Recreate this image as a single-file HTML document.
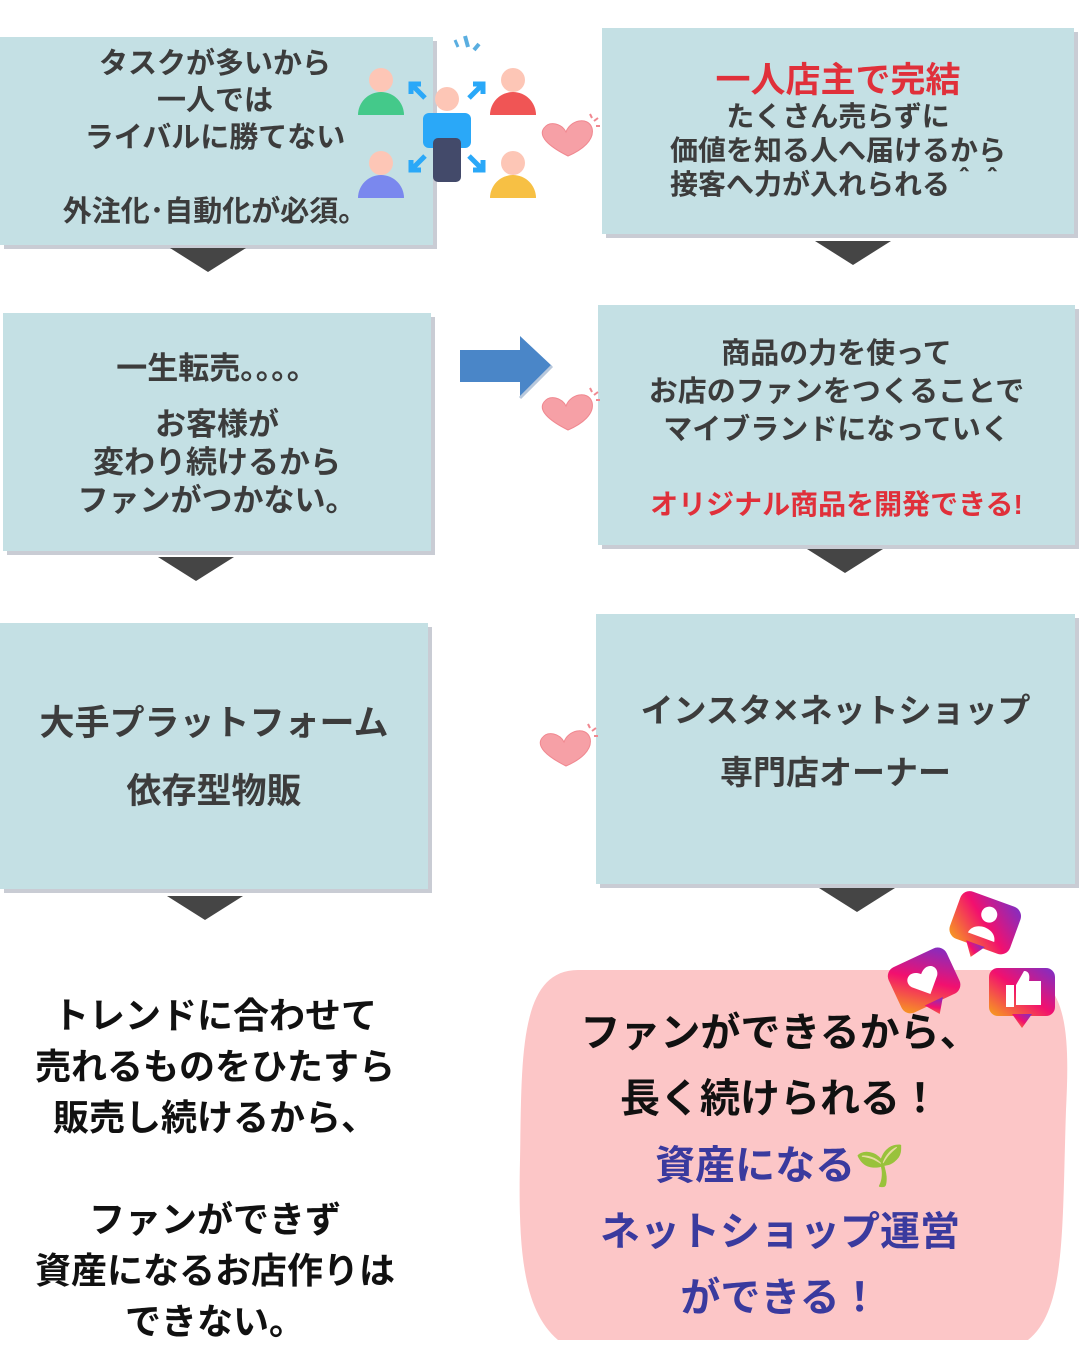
<!DOCTYPE html>
<html><head><meta charset="utf-8"><style>
body{margin:0;width:1080px;height:1350px;background:#fff;position:relative;overflow:hidden;font-family:"Liberation Sans","Noto Sans CJK JP",sans-serif;font-weight:bold;color:#3c3c3c}
.b{position:absolute;background:#c4e0e4;box-shadow:4px 4px 0 #c9ccd4;text-align:center}
.t{position:absolute;width:0;height:0;border-left:38px solid transparent;border-right:38px solid transparent;border-top:24px solid #454545}
.a{position:absolute;text-align:center;white-space:nowrap}
.red{color:#e0303a}
</style></head><body>
<div class="b" style="left:0;top:37px;width:433px;height:208px"></div>
<div class="a" style="left:0;top:46px;width:430px;font-size:29px;line-height:37px">タスクが多いから<br>一人では<br>ライバルに勝てない<br><br>外注化･自動化が必須。</div>
<div class="b" style="left:602px;top:28px;width:472px;height:206px"></div>
<div class="a" style="left:602px;top:58px;width:472px;font-size:35px;line-height:46px" ><span class="red">一人店主で完結</span></div>
<div class="a" style="left:602px;top:100px;width:472px;font-size:28px;line-height:34px">たくさん売らずに<br>価値を知る人へ届けるから<br>接客へ力が入れられる＾＾</div>

<div class="b" style="left:3px;top:313px;width:428px;height:238px"></div>
<div class="a" style="left:3px;top:348px;width:428px;font-size:31px;line-height:42px">一生転売。。。。</div>
<div class="a" style="left:3px;top:406px;width:428px;font-size:31px;line-height:38px">お客様が<br>変わり続けるから<br>ファンがつかない。</div>
<div class="b" style="left:598px;top:305px;width:477px;height:240px"></div>
<div class="a" style="left:598px;top:335px;width:477px;font-size:29px;line-height:38px">商品の力を使って<br>お店のファンをつくることで<br>マイブランドになっていく</div>
<div class="a red" style="left:598px;top:486px;width:477px;font-size:28px;line-height:38px">オリジナル商品を開発できる!</div>

<div class="b" style="left:0;top:623px;width:428px;height:266px"></div>
<div class="a" style="left:0;top:690px;width:428px;font-size:35px;line-height:68px">大手プラットフォーム<br>依存型物販</div>
<div class="b" style="left:596px;top:614px;width:479px;height:270px"></div>
<div class="a" style="left:596px;top:680px;width:479px;font-size:33px;line-height:62px">インスタ✕ネットショップ<br>専門店オーナー</div>

<div class="t" style="left:170px;top:248px"></div>
<div class="t" style="left:815px;top:241px"></div>
<div class="t" style="left:158px;top:557px"></div>
<div class="t" style="left:807px;top:549px"></div>
<div class="t" style="left:167px;top:896px"></div>
<div class="t" style="left:819px;top:888px"></div>

<svg style="position:absolute;left:458px;top:334px" width="98" height="68"><path d="M2 16h60V2l32 30-32 32V48H2z" fill="#4a86c8"/><path d="M62 64l32-32" stroke="#b8c8dc" stroke-width="3"/></svg>

<div class="a" style="left:0;top:990px;width:430px;font-size:36px;line-height:51px;color:#111">トレンドに合わせて<br>売れるものをひたすら<br>販売し続けるから、<br><br>ファンができず<br>資産になるお店作りは<br>できない。</div>

<svg style="position:absolute;left:518px;top:970px" width="552" height="375"><path d="M60 0H490C550 0 552 60 548 140C544 260 548 340 510 370H40C5 340 0 280 2 190C4 90 0 0 60 0z" fill="#fcc6c7"/></svg>
<div class="a" style="left:515px;top:1000px;width:530px;font-size:40px;line-height:66px;color:#111">ファンができるから、<br>長く続けられる！</div>
<div class="a" style="left:515px;top:1133px;width:530px;font-size:40px;line-height:66px;color:#3a3a9e">資産になる🌱<br>ネットショップ運営<br>ができる！</div>

<svg style="position:absolute;left:880px;top:885px" width="180" height="145">
<defs><linearGradient id="g" x1="0" y1="1" x2="1" y2="0"><stop offset="0" stop-color="#f7a21c"/><stop offset=".5" stop-color="#f2106e"/><stop offset="1" stop-color="#7a30c8"/></linearGradient></defs>
<g transform="rotate(20 103 38)"><rect x="73" y="12" width="64" height="50" rx="10" fill="url(#g)"/><path d="M93 60l10 14 10-14z" fill="url(#g)"/><circle cx="106" cy="28" r="8" fill="#fff"/><path d="M92 52c2-14 26-14 28 0z" fill="#fff"/></g>
<g transform="rotate(-25 45 95)"><rect x="12" y="70" width="64" height="50" rx="10" fill="url(#g)"/><path d="M34 118l10 14 10-14z" fill="url(#g)"/><path d="M44 110l-14-14c-6-8 4-18 14-8c10-10 20 0 14 8z" fill="#fff"/></g>
<rect x="109" y="83" width="66" height="48" rx="9" fill="url(#g)"/><path d="M132 129l10 14 10-14z" fill="url(#g)"/><rect x="126" y="100" width="8" height="22" fill="#fff"/><path d="M136 100l8-14c5 0 6 4 5 10h12v24h-25z" fill="#fff"/>
</svg>

<svg style="position:absolute;left:355px;top:28px" width="185" height="175">
<g fill="#5aaee0"><path d="M110 8l3 11" stroke="#5aaee0" stroke-width="4"/><path d="M100 12l3 7" stroke="#5aaee0" stroke-width="3"/><path d="M124 16l-5 6" stroke="#5aaee0" stroke-width="4"/></g>
<circle cx="26" cy="52" r="12" fill="#fdc6b6"/><path d="M3 87a23 23 0 0 1 46 0z" fill="#44c98a"/>
<circle cx="158" cy="52" r="12" fill="#fdc6b6"/><path d="M135 87a23 23 0 0 1 46 0z" fill="#f05555"/>
<circle cx="26" cy="135" r="12" fill="#fdc6b6"/><path d="M3 170a23 23 0 0 1 46 0z" fill="#7a88ee"/>
<circle cx="158" cy="135" r="12" fill="#fdc6b6"/><path d="M135 170a23 23 0 0 1 46 0z" fill="#f7c044"/>
<circle cx="92" cy="71" r="12" fill="#fdc6b6"/>
<rect x="68" y="85" width="48" height="35" rx="6" fill="#2aa8f8"/><rect x="78" y="110" width="28" height="44" rx="5" fill="#434a6a"/>
<g stroke="#2aa8f8" stroke-width="5" fill="none"><path d="M70 70l-14-14M56 66V56h10"/><path d="M114 70l14-14M118 56h10v10"/><path d="M70 128l-14 14M56 132v10h10"/><path d="M114 128l14 14M118 142h10v-10"/></g>
</svg>

<svg style="position:absolute;left:538px;top:108px" width="66" height="52"><path d="M30 48C10 38 0 28 6 20c6-8 18-4 22 4c4-12 22-16 26-4c3 12-10 22-24 28z" fill="#f6a0a6" stroke="#f08890"/><path d="M52 6l2 4M60 10l-4 3M62 18h-4" stroke="#f08890" stroke-width="2"/></svg>
<svg style="position:absolute;left:538px;top:382px" width="66" height="52"><path d="M30 48C10 38 0 28 6 20c6-8 18-4 22 4c4-12 22-16 26-4c3 12-10 22-24 28z" fill="#f6a0a6" stroke="#f08890"/><path d="M52 6l2 4M60 10l-4 3M62 18h-4" stroke="#f08890" stroke-width="2"/></svg>
<svg style="position:absolute;left:536px;top:718px" width="66" height="52"><path d="M30 48C10 38 0 28 6 20c6-8 18-4 22 4c4-12 22-16 26-4c3 12-10 22-24 28z" fill="#f6a0a6" stroke="#f08890"/><path d="M52 6l2 4M60 10l-4 3M62 18h-4" stroke="#f08890" stroke-width="2"/></svg>
</body></html>
